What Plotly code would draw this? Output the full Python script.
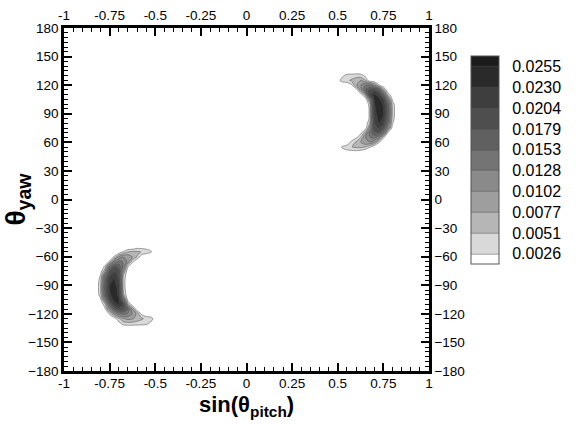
import plotly.graph_objects as go

# Contour levels of the probability density and their legend labels
levels = [0.00255, 0.0051, 0.00765, 0.0102, 0.01275, 0.0153, 0.01785, 0.0204, 0.02295, 0.0255]
level_labels = ["0.0026", "0.0051", "0.0077", "0.0102", "0.0128",
                "0.0153", "0.0179", "0.0204", "0.0230", "0.0255"]

# Grey fill for each band, from below the first level up to above the last one
band_colors = ["#ffffff", "#d9d9d9", "#b6b6b6", "#9e9e9e", "#8a8a8a", "#747474",
               "#606060", "#4e4e4e", "#3e3e3e", "#2a2a2a", "#1c1c1c"]

x_tickvals = [-1, -0.75, -0.5, -0.25, 0, 0.25, 0.5, 0.75, 1]
x_ticktext = ["-1", "-0.75", "-0.5", "-0.25", "0", "0.25", "0.5", "0.75", "1"]
y_tickvals = [-180, -150, -120, -90, -60, -30, 0, 30, 60, 90, 120, 150, 180]

# Lobe at negative pitch (density in units of 1e-4)
sin_pitch_a = [-0.85, -0.825, -0.8, -0.775, -0.75, -0.725, -0.7, -0.675,
               -0.65, -0.625, -0.6, -0.575, -0.55, -0.525, -0.5, -0.475]
yaw_a = [-140, -135, -130, -125, -120, -115, -110, -105, -100, -95,
         -90, -85, -80, -75, -70, -65, -60, -55, -50, -45]
density_a = [
    [0, 0, 0, 0, 0, 0, 0, 0, 0, 0, 0, 0, 0, 0, 0, 0],
    [0, 0, 0, 0, 0, 0, 0, 0, 0, 0, 0, 0, 0, 0, 0, 0],
    [0, 0, 0, 0, 0, 0, 15, 38, 42, 42, 40, 38, 35, 20, 0, 0],
    [0, 0, 0, 0, 0, 10, 45, 75, 85, 80, 65, 55, 45, 38, 12, 0],
    [0, 0, 0, 0, 30, 80, 120, 135, 125, 100, 70, 20, 0, 0, 0, 0],
    [0, 0, 0, 20, 95, 160, 190, 185, 150, 75, 5, 0, 0, 0, 0, 0],
    [0, 0, 0, 45, 150, 215, 235, 200, 60, 5, 0, 0, 0, 0, 0, 0],
    [0, 0, 20, 110, 205, 240, 235, 130, 10, 0, 0, 0, 0, 0, 0, 0],
    [0, 0, 40, 150, 225, 245, 225, 60, 0, 0, 0, 0, 0, 0, 0, 0],
    [0, 0, 45, 160, 230, 250, 220, 45, 0, 0, 0, 0, 0, 0, 0, 0],
    [0, 0, 45, 160, 230, 245, 210, 40, 0, 0, 0, 0, 0, 0, 0, 0],
    [0, 0, 40, 150, 220, 235, 200, 40, 0, 0, 0, 0, 0, 0, 0, 0],
    [0, 0, 28, 130, 200, 225, 195, 50, 0, 0, 0, 0, 0, 0, 0, 0],
    [0, 0, 10, 70, 175, 200, 185, 85, 5, 0, 0, 0, 0, 0, 0, 0],
    [0, 0, 0, 30, 130, 175, 165, 125, 30, 0, 0, 0, 0, 0, 0, 0],
    [0, 0, 0, 0, 30, 105, 135, 125, 95, 35, 0, 0, 0, 0, 0, 0],
    [0, 0, 0, 0, 0, 28, 80, 100, 95, 75, 50, 10, 0, 0, 0, 0],
    [0, 0, 0, 0, 0, 0, 0, 28, 50, 58, 55, 50, 40, 30, 5, 0],
    [0, 0, 0, 0, 0, 0, 0, 0, 0, 0, 15, 15, 15, 12, 0, 0],
    [0, 0, 0, 0, 0, 0, 0, 0, 0, 0, 0, 0, 0, 0, 0, 0],
]

# Lobe at positive pitch (density in units of 1e-4)
sin_pitch_b = [0.475, 0.5, 0.525, 0.55, 0.575, 0.6, 0.625, 0.65,
               0.675, 0.7, 0.725, 0.75, 0.775, 0.8, 0.825, 0.85]
yaw_b = [45, 50, 55, 60, 65, 70, 75, 80, 85, 90,
         95, 100, 105, 110, 115, 120, 125, 130, 135, 140]
density_b = [
    [0, 0, 0, 0, 0, 0, 0, 0, 0, 0, 0, 0, 0, 0, 0, 0],
    [0, 0, 12, 15, 15, 15, 10, 0, 0, 0, 0, 0, 0, 0, 0, 0],
    [0, 5, 30, 40, 50, 55, 58, 50, 28, 0, 0, 0, 0, 0, 0, 0],
    [0, 0, 0, 5, 35, 55, 75, 95, 100, 80, 28, 0, 0, 0, 0, 0],
    [0, 0, 0, 0, 0, 20, 50, 100, 125, 135, 105, 30, 0, 0, 0, 0],
    [0, 0, 0, 0, 0, 0, 15, 65, 135, 170, 175, 130, 20, 0, 0, 0],
    [0, 0, 0, 0, 0, 0, 0, 5, 85, 190, 205, 180, 95, 10, 0, 0],
    [0, 0, 0, 0, 0, 0, 0, 0, 50, 200, 230, 210, 130, 28, 0, 0],
    [0, 0, 0, 0, 0, 0, 0, 0, 30, 205, 240, 225, 150, 40, 0, 0],
    [0, 0, 0, 0, 0, 0, 0, 0, 30, 215, 248, 232, 160, 45, 0, 0],
    [0, 0, 0, 0, 0, 0, 0, 0, 30, 222, 250, 232, 160, 45, 0, 0],
    [0, 0, 0, 0, 0, 0, 0, 0, 35, 228, 248, 225, 150, 40, 0, 0],
    [0, 0, 0, 0, 0, 0, 0, 0, 90, 235, 240, 205, 110, 20, 0, 0],
    [0, 0, 0, 0, 0, 0, 5, 60, 200, 235, 215, 150, 45, 0, 0, 0],
    [0, 0, 0, 0, 0, 5, 75, 150, 185, 190, 160, 70, 0, 0, 0, 0],
    [0, 0, 0, 0, 20, 70, 100, 125, 120, 85, 30, 0, 0, 0, 0, 0],
    [0, 12, 38, 45, 55, 65, 75, 55, 5, 0, 0, 0, 0, 0, 0, 0],
    [0, 0, 20, 35, 38, 40, 38, 20, 0, 0, 0, 0, 0, 0, 0, 0],
    [0, 0, 0, 0, 0, 0, 0, 0, 0, 0, 0, 0, 0, 0, 0, 0],
    [0, 0, 0, 0, 0, 0, 0, 0, 0, 0, 0, 0, 0, 0, 0, 0],
]

DENSITY_UNIT = 1e-4
FONT = "Liberation Sans"

n_bands = len(band_colors)
colorscale = [[i / (n_bands - 1), c] for i, c in enumerate(band_colors)]
contour_spec = dict(start=levels[0], end=levels[-1], size=levels[1] - levels[0],
                    coloring="fill", showlines=True)


def lobe(xs, ys, grid, show_bar):
    return go.Contour(
        x=xs, y=ys, z=[[v * DENSITY_UNIT for v in row] for row in grid],
        contours=contour_spec, autocontour=False,
        colorscale=colorscale,
        line=dict(color="#4a4a4a", width=0.5, smoothing=0.9),
        showscale=show_bar, hoverinfo="skip",
        colorbar=dict(
            x=1.115, xanchor="left", y=0.918, yanchor="top",
            len=208, lenmode="pixels", thickness=28, thicknessmode="pixels",
            outlinewidth=1, outlinecolor="#555555",
            tickvals=levels, ticktext=level_labels,
            ticks="outside", ticklen=10, tickcolor="rgba(0,0,0,0)",
            tickfont=dict(family=FONT, size=16, color="black"),
            xpad=0, ypad=0,
        ),
    )


fig = go.Figure()
fig.add_trace(lobe(sin_pitch_a, yaw_a, density_a, True))
fig.add_trace(lobe(sin_pitch_b, yaw_b, density_b, False))

# Invisible companion trace so the top and right axes are drawn
fig.add_trace(go.Scatter(
    x=[x_tickvals[0], x_tickvals[-1]], y=[y_tickvals[0], y_tickvals[-1]],
    xaxis="x2", yaxis="y2", mode="markers", marker=dict(opacity=0),
    hoverinfo="skip", showlegend=False,
))

axis_common = dict(
    showline=True, linecolor="black", linewidth=2.5,
    ticks="inside", ticklen=8, tickwidth=2, tickcolor="black",
    showgrid=False, zeroline=False,
    tickfont=dict(family=FONT, size=13.5, color="black"),
)
x_common = dict(axis_common, range=[x_tickvals[0], x_tickvals[-1]],
                tickvals=x_tickvals, ticktext=x_ticktext,
                minor=dict(dtick=0.05, ticks="inside", ticklen=4, tickwidth=1,
                           tickcolor="black", showgrid=False))
y_common = dict(axis_common, range=[y_tickvals[0], y_tickvals[-1]],
                tickvals=y_tickvals,
                minor=dict(dtick=5, ticks="inside", ticklen=4, tickwidth=1,
                           tickcolor="black", showgrid=False))

fig.update_layout(
    width=576, height=424,
    margin=dict(l=64, r=147, t=28, b=53, autoexpand=False),
    paper_bgcolor="white", plot_bgcolor="white",
    font=dict(family=FONT, color="black"),
    xaxis=dict(x_common, ticklabelstandoff=-2),
    yaxis=dict(y_common,
               title=dict(text="θ<sub>yaw</sub>", standoff=2,
                          font=dict(family=FONT, size=28, weight="bold"))),
    xaxis2=dict(x_common, overlaying="x", side="top", anchor="y2"),
    yaxis2=dict(y_common, overlaying="y", side="right", anchor="x2"),
    showlegend=False,
)

# Horizontal axis title, set just under the tick labels
fig.add_annotation(
    text="sin(θ<sub>pitch</sub>)", xref="paper", yref="paper",
    x=0.5, y=-0.0554, xanchor="center", yanchor="top", showarrow=False,
    font=dict(family=FONT, size=22, weight="bold", color="black"),
)

fig.write_html("out.html")
